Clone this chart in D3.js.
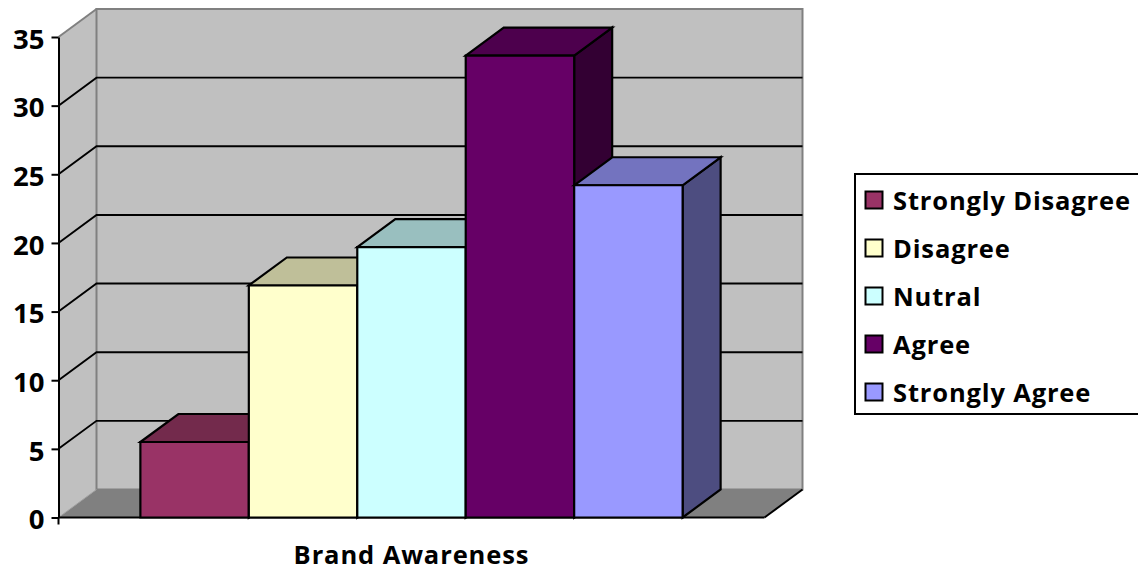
<!DOCTYPE html>
<html><head><meta charset="utf-8">
<style>html,body{margin:0;padding:0;background:#fff;overflow:hidden}svg{display:block}text{font-family:"Open Sans",Lato,sans-serif;font-weight:700;fill:#000}</style>
<script src="https://cdn.jsdelivr.net/npm/d3@7"></script></head><body>
<script>
const categories = ["Brand Awareness"];
const series = ["Strongly Disagree","Disagree","Nutral","Agree","Strongly Agree"];
const values = [5.5,16.9,19.7,33.65,24.2];
const colors = ["#993366","#ffffcc","#ccffff","#660066","#9999ff"];
const topColors = ["#732a4c","#bfbf99","#99bfbf","#4d004d","#7373bf"];
const sideColors = ["#4d1a33","#808066","#668080","#330033","#4d4d80"];
const yTicks = [0,5,10,15,20,25,30,35];

const W=1138,H=568, dx=38, dy=-28, fs=25.5, tickFs=27.5;
const svg=d3.select("body").append("svg").attr("width",W).attr("height",H);
const y=d3.scaleLinear().domain([0,35]).range([517.5,37]);
const xCat=d3.scaleBand().domain(categories).range([58.5,764.5]);
const x=d3.scaleBand().domain(series).range([58.5,764.5]).paddingInner(0).paddingOuter(0.755);
const L=xCat.range()[0],R=xCat.range()[1],Y0=y(0),Y1=y(35);
const poly=(pts,fill,stroke,sw)=>svg.append("path").attr("d",d3.line()(pts)+"Z").attr("fill",fill).attr("stroke",stroke||"none").attr("stroke-width",sw||0).attr("stroke-linejoin","miter");
const seg=(a,b,stroke,sw)=>svg.append("path").attr("d",d3.line()([a,b])).attr("fill","none").attr("stroke",stroke).attr("stroke-width",sw);

// walls and floor
poly([[L,Y0],[L+dx,Y0+dy],[L+dx,Y1+dy],[L,Y1]],"#c0c0c0");
poly([[L+dx,Y0+dy],[R+dx,Y0+dy],[R+dx,Y1+dy],[L+dx,Y1+dy]],"#c0c0c0","#808080",2);
poly([[L,Y0],[L+dx,Y0+dy],[R+dx,Y0+dy],[R,Y0]],"#808080");
seg([L,Y1],[L+dx,Y1+dy],"#808080",2);
seg([L+dx,Y0+dy],[L,Y0],"#a0a0a0",1);

// gridlines
yTicks.filter(t=>t>0&&t<35).forEach(t=>{
  svg.append("path").attr("d",d3.line()([[L,y(t)],[L+dx,y(t)+dy],[R+dx,y(t)+dy]]))
    .attr("fill","none").attr("stroke","#000").attr("stroke-width",1.9);
});
seg([R,Y0],[R+dx,Y0+dy],"#000",2);

// axes
const ay=svg.append("g").attr("transform",`translate(${L},0)`)
  .call(d3.axisLeft(y).tickValues(yTicks).tickSize(7).tickPadding(7).tickSizeOuter(0));
ay.selectAll("path,line").attr("stroke","#000").attr("stroke-width",2);
ay.selectAll("text").attr("font-size",tickFs).attr("fill","#000").attr("dy","0.41em").style("font-family",'"Open Sans",Lato,sans-serif').style("font-weight",700);
const ax=svg.append("g").attr("transform",`translate(0,${Y0})`)
  .call(d3.axisBottom(xCat).tickSize(0).tickPadding(0));
ax.select("path").remove();
ax.selectAll("text").remove();
seg([L,Y0],[R,Y0],"#000",2.2);
seg([L,Y0],[L,Y0+7],"#000",2);
svg.append("text").attr("x",xCat(categories[0])+xCat.bandwidth()/2).attr("y",563.5).attr("text-anchor","middle").attr("font-size",fs).attr("letter-spacing",0.9).text(categories[0]);

// bars
series.forEach((s,i)=>{
  const a=x(s),b=a+x.bandwidth(),t=y(values[i]);
  poly([[b,t],[b+dx,t+dy],[b+dx,Y0+dy],[b,Y0]],sideColors[i],"#000",2.2);
  poly([[a,t],[a+dx,t+dy],[b+dx,t+dy],[b,t]],topColors[i],"#000",2.2);
  poly([[a,t],[b,t],[b,Y0],[a,Y0]],colors[i],"#000",2.2);
});

// legend
svg.append("rect").attr("x",855).attr("y",174).attr("width",300).attr("height",240).attr("fill","#fff").attr("stroke","#000").attr("stroke-width",2);
const ly=d3.scalePoint().domain(series).range([201,393]);
series.forEach((s,i)=>{
  svg.append("rect").attr("x",865.5).attr("y",ly(s)-9.5).attr("width",17).attr("height",17).attr("fill",colors[i]).attr("stroke","#000").attr("stroke-width",2);
  svg.append("text").attr("x",893).attr("y",ly(s)+9).attr("font-size",fs).attr("letter-spacing",0.85).text(s);
});
</script></body></html>
